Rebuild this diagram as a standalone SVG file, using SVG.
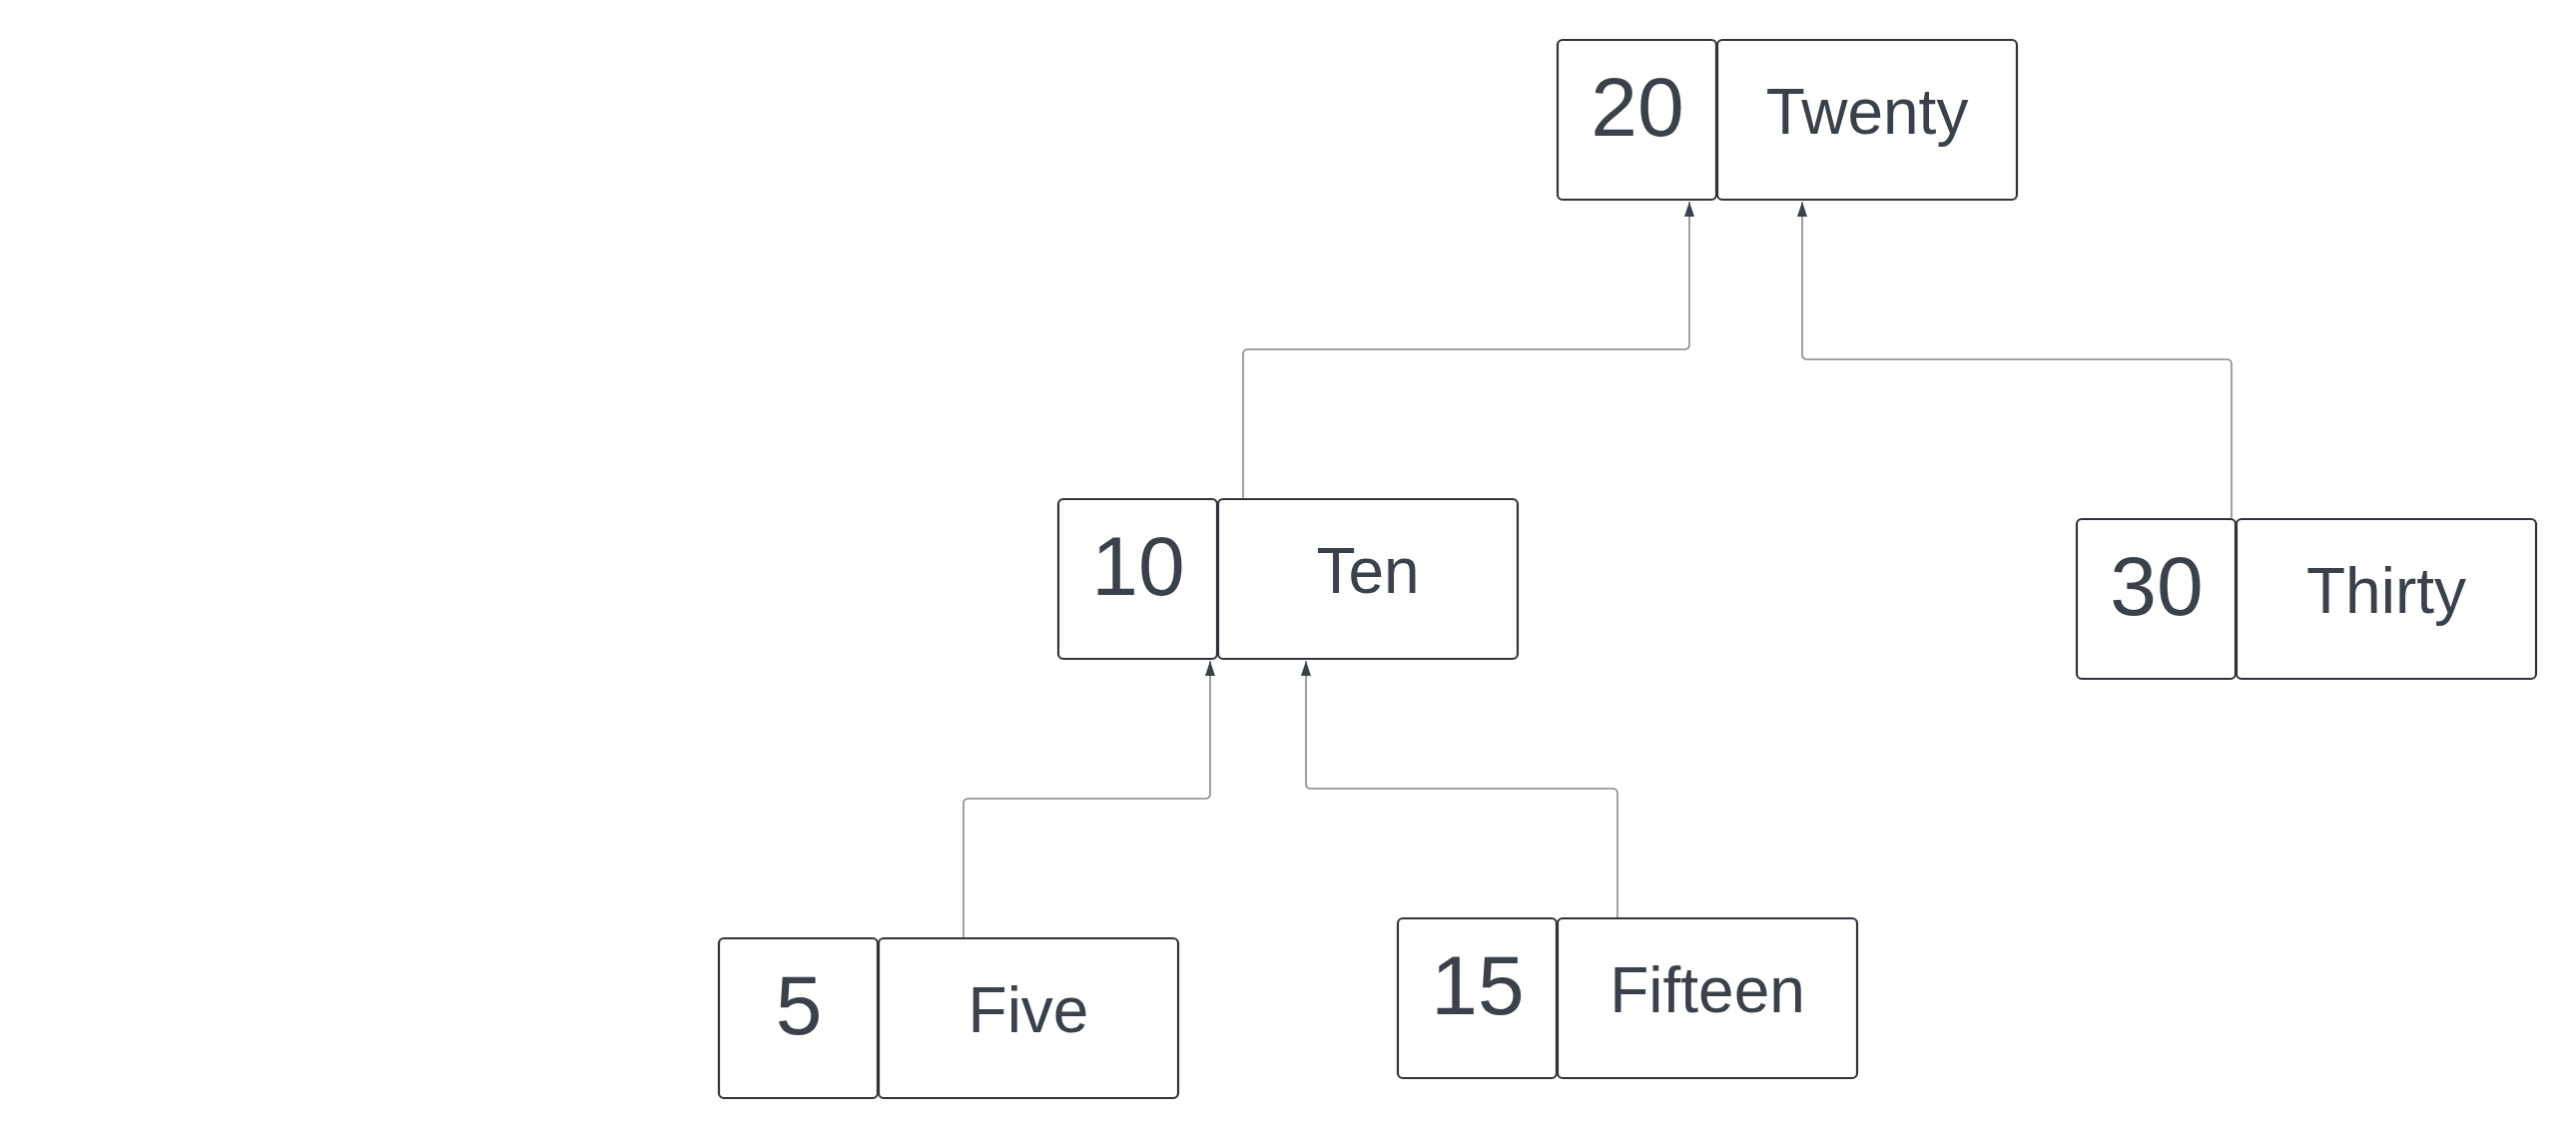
<svg xmlns="http://www.w3.org/2000/svg" width="2580" height="1140" viewBox="0 0 2580 1140">
  <style>
    .box { fill: #ffffff; stroke: #2f343b; stroke-width: 2.2; }
    .num { font-family: "Liberation Sans", Arial, sans-serif; font-size: 84px; fill: #3a414a; text-anchor: middle; }
    .lbl { font-family: "Liberation Sans", Arial, sans-serif; font-size: 64px; fill: #3a414a; text-anchor: middle; }
    .conn { fill: none; stroke: #858a91; stroke-width: 1.6; }
  </style>
  <defs>
    <marker id="arrow" viewBox="0 0 15 10" refX="15" refY="5" markerWidth="15" markerHeight="10" markerUnits="userSpaceOnUse" orient="auto">
      <path d="M0,0 L15,5 L0,10 z" fill="#3a414a"/>
    </marker>
  </defs>
  <rect width="2580" height="1140" fill="#ffffff"/>

  <g id="connectors">
    <path class="conn" marker-end="url(#arrow)" d="M1245,499 V355 Q1245,350 1250,350 H1687 Q1692,350 1692,345 V202"/>
    <path class="conn" marker-end="url(#arrow)" d="M2235,519 V365 Q2235,360 2230,360 H1810 Q1805,360 1805,355 V202"/>
    <path class="conn" marker-end="url(#arrow)" d="M965,939 V805 Q965,800 970,800 H1207 Q1212,800 1212,795 V662"/>
    <path class="conn" marker-end="url(#arrow)" d="M1620,919 V795 Q1620,790 1615,790 H1313 Q1308,790 1308,785 V662"/>
  </g>

  <g id="node-20">
    <rect class="box" x="1560" y="40" width="159" height="160" rx="5"/>
    <rect class="box" x="1720" y="40" width="300" height="160" rx="5"/>
    <text class="num" x="1640" y="136">20</text>
    <text class="lbl" x="1870" y="134">Twenty</text>
  </g>

  <g id="node-10">
    <rect class="box" x="1060" y="500" width="159" height="160" rx="5"/>
    <rect class="box" x="1220" y="500" width="300" height="160" rx="5"/>
    <text class="num" x="1140" y="596">10</text>
    <text class="lbl" x="1370" y="594">Ten</text>
  </g>

  <g id="node-30">
    <rect class="box" x="2080" y="520" width="159" height="160" rx="5"/>
    <rect class="box" x="2240" y="520" width="300" height="160" rx="5"/>
    <text class="num" x="2160" y="616">30</text>
    <text class="lbl" x="2390" y="614">Thirty</text>
  </g>

  <g id="node-5">
    <rect class="box" x="720" y="940" width="159" height="160" rx="5"/>
    <rect class="box" x="880" y="940" width="300" height="160" rx="5"/>
    <text class="num" x="800" y="1036">5</text>
    <text class="lbl" x="1030" y="1034">Five</text>
  </g>

  <g id="node-15">
    <rect class="box" x="1400" y="920" width="159" height="160" rx="5"/>
    <rect class="box" x="1560" y="920" width="300" height="160" rx="5"/>
    <text class="num" x="1480" y="1016">15</text>
    <text class="lbl" x="1710" y="1014">Fifteen</text>
  </g>
</svg>
